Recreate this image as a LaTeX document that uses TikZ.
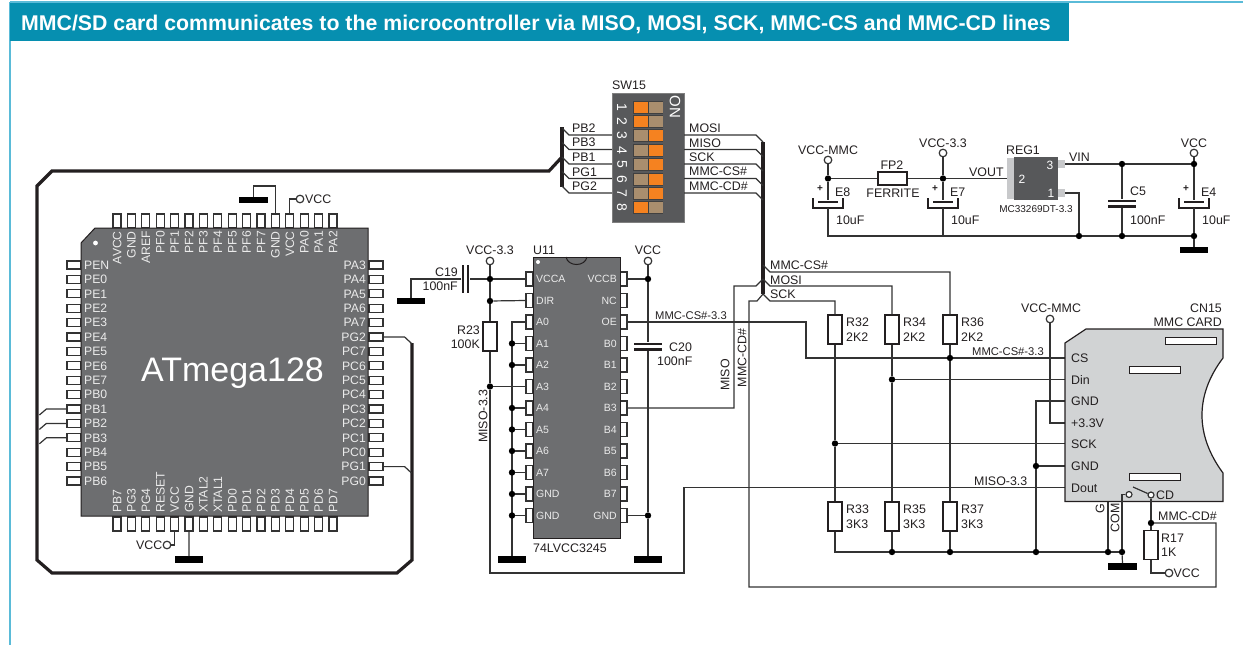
\documentclass[tikz,border=0pt]{standalone}
\usepackage{fontspec}
\setmainfont{Liberation Sans}
\usetikzlibrary{positioning,calc}

\definecolor{headteal}{HTML}{068FB0}
\definecolor{framecyan}{HTML}{5ABBD8}
\definecolor{wirecol}{HTML}{333333}
\definecolor{buscol}{HTML}{231F20}
\definecolor{chipgrey}{HTML}{6D6E70}
\definecolor{swgrey}{HTML}{58595B}
\definecolor{swtan}{HTML}{A98E6E}
\definecolor{swon}{HTML}{F58220}
\definecolor{cardgrey}{HTML}{D1D3D4}
\definecolor{tabgrey}{HTML}{C8C9CB}

\tikzset{
    wire/.style={draw=wirecol, line width=1.2pt},
    bus/.style={draw=buscol, line width=3.2pt, miter limit=10},
    dot/.style={circle, fill=black, inner sep=0pt, minimum size=6.4pt},
    term/.style={circle, draw=wirecol, fill=white, line width=1.2pt, inner sep=0pt, minimum size=7.6pt},
    smallterm/.style={term, minimum size=6pt},
    gndbar/.style={rectangle, fill=black, inner sep=0pt, minimum width=28.5pt, minimum height=6.5pt},
    pinh/.style={rectangle, draw=wirecol, fill=white, line width=1.2pt, inner sep=0pt, minimum width=14pt, minimum height=8pt},
    pinv/.style={rectangle, draw=wirecol, fill=white, line width=1.2pt, inner sep=0pt, minimum width=8pt, minimum height=14pt},
    pinu/.style={rectangle, draw=wirecol, fill=white, line width=1.2pt, inner sep=0pt, minimum width=7pt, minimum height=14pt},
    res/.style={rectangle, draw=buscol, fill=white, line width=1.4pt, inner sep=0pt, minimum width=14pt, minimum height=29pt},
    ferrite/.style={res, minimum width=29pt, minimum height=13pt},
    plateh/.style={rectangle, fill=buscol, inner sep=0pt, minimum width=28pt, minimum height=2.8pt},
    platev/.style={rectangle, fill=buscol, inner sep=0pt, minimum width=2.8pt, minimum height=28pt},
    lbl/.style={inner sep=0pt, anchor=west, text=buscol, text height=8.6pt, text depth=0pt, font=\fontsize{12.4}{14}\selectfont},
    lblr/.style={lbl, anchor=east},
    lblc/.style={lbl, anchor=center},
    siglbl/.style={lbl, font=\fontsize{11.2}{13}\selectfont},
    chiplbl/.style={lbl, text=white!92!black, font=\fontsize{12.2}{14}\selectfont},
    ulbl/.style={lbl, text=white!92!black, text height=7.4pt, font=\fontsize{10.5}{12}\selectfont},
    swcell/.style={rectangle, inner sep=0pt, minimum width=14pt, minimum height=11pt}
}

\begin{document}
\begin{tikzpicture}[x=1pt,y=-1pt]
    \useasboundingbox (0,0) rectangle (1243,645);

    % frame and heading
    \draw [framecyan, line width=1.2pt] (10,2) -- (1243,2);
    \draw [framecyan, line width=2pt] (10,2) -- (10,645);
    \fill [headteal] (10,3) rectangle (1069,41);
    \node [inner sep=0pt, anchor=west, text=white, font=\bfseries\fontsize{21.3}{24}\selectfont] (title) at (21,24) {MMC/SD card communicates to the microcontroller via MISO, MOSI, SCK, MMC-CS and MMC-CD lines};

    % ATmega128 pins
    \foreach \n [count=\i from 0] in {AVCC,GND,AREF,PF0,PF1,PF2,PF3,PF4,PF5,PF6,PF7,GND,VCC,PA0,PA1,PA2} {
        \pgfmathsetmacro\px{117+14.4*\i}
        \node [pinv] (top\i) at (\px,221) {};
    }
    \foreach \n [count=\i from 0] in {PB7,PG3,PG4,RESET,VCC,GND,XTAL2,XTAL1,PD0,PD1,PD2,PD3,PD4,PD5,PD6,PD7} {
        \pgfmathsetmacro\px{117+14.4*\i}
        \node [pinv] (bot\i) at (\px,524) {};
    }
    \foreach \n [count=\i from 0] in {PEN,PE0,PE1,PE2,PE3,PE4,PE5,PE6,PE7,PB0,PB1,PB2,PB3,PB4,PB5,PB6} {
        \pgfmathsetmacro\py{265+14.4*\i}
        \node [pinh] (left\i) at (74,\py) {};
    }
    \foreach \n [count=\i from 0] in {PA3,PA4,PA5,PA6,PA7,PG2,PC7,PC6,PC5,PC4,PC3,PC2,PC1,PC0,PG1,PG0} {
        \pgfmathsetmacro\py{265+14.4*\i}
        \node [pinh] (right\i) at (376,\py) {};
    }
    \draw [fill=chipgrey, draw=buscol, line width=1pt] (81,243) -- (95,228) -- (368,228) -- (368,516) -- (81,516) -- cycle;
    \fill [white] (95.5,243) circle (2.4);
    \foreach \n [count=\i from 0] in {AVCC,GND,AREF,PF0,PF1,PF2,PF3,PF4,PF5,PF6,PF7,GND,VCC,PA0,PA1,PA2} {
        \pgfmathsetmacro\px{117+14.4*\i}
        \node [chiplbl, rotate=90, anchor=east] (topl\i) at (\px,231) {\n};
    }
    \foreach \n [count=\i from 0] in {PB7,PG3,PG4,RESET,VCC,GND,XTAL2,XTAL1,PD0,PD1,PD2,PD3,PD4,PD5,PD6,PD7} {
        \pgfmathsetmacro\px{117+14.4*\i}
        \node [chiplbl, rotate=90, anchor=west] (botl\i) at (\px,513) {\n};
    }
    \foreach \n [count=\i from 0] in {PEN,PE0,PE1,PE2,PE3,PE4,PE5,PE6,PE7,PB0,PB1,PB2,PB3,PB4,PB5,PB6} {
        \pgfmathsetmacro\py{265+14.4*\i}
        \node [chiplbl] (leftl\i) at (84,\py) {\n};
    }
    \foreach \n [count=\i from 0] in {PA3,PA4,PA5,PA6,PA7,PG2,PC7,PC6,PC5,PC4,PC3,PC2,PC1,PC0,PG1,PG0} {
        \pgfmathsetmacro\py{265+14.4*\i}
        \node [chiplbl, anchor=east] (rightl\i) at (366,\py) {\n};
    }
    \node [inner sep=0pt, text=white, font=\fontsize{34}{38}\selectfont] (mcu) at (232.5,373) {ATmega128};

    % thick bus round the MCU
    \coordinate (busA) at (562,157);
    \coordinate (busB) at (412,343);
    \draw [bus] (busA) -- (549,171) -- (52,171) -- (37,186) -- (37,560) -- (52,573) -- (397,573) -- (412,560) -- (busB);
    \coordinate (sbusT) at (562,127);
    \coordinate (sbusB) at (562,187);
    \draw [bus] (sbusT) -- (sbusB);
    \coordinate (rbusT) at (763,142);
    \coordinate (rbusB) at (763,294);
    \draw [bus] (rbusT) -- (rbusB);

    % MCU pin wires
    \foreach \i in {10,11,12} {
        \coordinate (ent\i) at ($(left\i.west)+(-27,6)$);
        \draw [wire] (left\i.west) -- ++(-20,0) -- (ent\i);
    }
    \foreach \i in {5,14} {
        \coordinate (ent r\i) at ($(right\i.east)+(28,6.5)$);
        \draw [wire] (right\i.east) -- ++(21,0) -- (ent r\i);
    }
    \node [gndbar] (gnd1) at (253.5,200) {};
    \node [term] (tvcc1) at (300,199) {};
    \node [lbl] (lblvcc1) at (305,199.5) {VCC};
    \draw [wire] (top11.north) |- (253.5,186) -- (gnd1.north);
    \draw [wire] (top12.north) |- (tvcc1.west);
    \node [term] (tvcc2) at (167,545) {};
    \node [lblr] (lblvcc2) at (162.5,545) {VCC};
    \node [gndbar] (gnd2) at (189,559.5) {};
    \draw [wire] (bot4.south) |- (tvcc2.east);
    \draw [wire] (bot5.south) -- (gnd2.north);

    % SW15
    \node [rectangle, draw=gray, fill=swgrey, line width=1pt, inner sep=0pt, minimum width=72pt, minimum height=129pt] (sw) at (648,157.5) {};
    \node [lbl] (lblsw) at (612,85) {SW15};
    \node [inner sep=0pt, rotate=-90, text=white, font=\fontsize{15}{17}\selectfont] (lblon) at (675,107) {ON};
    \foreach \lc/\rc [count=\i from 1] in {swon/swtan,swon/swtan,swtan/swon,swtan/swon,swtan/swon,swtan/swon,swtan/swon,swon/swtan} {
        \pgfmathsetmacro\py{107+14.4*(\i-1)}
        \fill [black!75] (633,\py-6.5) rectangle (663,\py+6.5);
        \node [swcell, fill=\lc] (swa\i) at (641,\py) {};
        \node [swcell, fill=\rc] (swb\i) at (655.5,\py) {};
        \node [inner sep=0pt, rotate=-90, text=white, font=\fontsize{14}{16}\selectfont] (swn\i) at (622,\py) {\i};
    }
    \foreach \n/\y/\ly [count=\i from 1] in {PB2/135/128,PB3/149.5/142.5,PB1/164/157,PG1/178.5/172,PG2/193/186} {
        \coordinate (swl\i) at (612,\y);
        \draw [wire] (swl\i) -- (569,\y) -- (562,\y-7);
        \node [lbl] (lblsl\i) at (572,\ly) {\n};
    }
    \foreach \n/\y/\ly [count=\i from 1] in {MOSI/135/128,MISO/149.5/143,SCK/164/157,MMC-CS\#/178.5/171.5,MMC-CD\#/193/186} {
        \coordinate (swr\i) at (684,\y);
        \draw [wire] (swr\i) -- (756,\y) -- (763,\y+7);
        \node [lbl] (lblsr\i) at (689,\ly) {\n};
    }

    % U11
    \foreach \n [count=\i from 0] in {VCCA,DIR,A0,A1,A2,A3,A4,A5,A6,A7,GND,GND} {
        \pgfmathsetmacro\py{279+21.5*\i}
        \node [pinu] (ul\i) at (529.5,\py) {};
    }
    \foreach \n [count=\i from 0] in {VCCB,NC,OE,B0,B1,B2,B3,B4,B5,B6,B7,GND} {
        \pgfmathsetmacro\py{279+21.5*\i}
        \node [pinu] (ur\i) at (623.5,\py) {};
    }
    \draw [fill=chipgrey, draw=buscol, line width=1pt] (533,257) rectangle (620,538);
    \draw [buscol, line width=1pt] (566,257) .. controls (568,267) and (585,267) .. (587,257);
    \fill [white] (538,262) circle (2);
    \foreach \n [count=\i from 0] in {VCCA,DIR,A0,A1,A2,A3,A4,A5,A6,A7,GND,GND} {
        \pgfmathsetmacro\py{279+21.5*\i}
        \node [ulbl] (ull\i) at (536,\py) {\n};
    }
    \foreach \n [count=\i from 0] in {VCCB,NC,OE,B0,B1,B2,B3,B4,B5,B6,B7,GND} {
        \pgfmathsetmacro\py{279+21.5*\i}
        \node [ulbl, anchor=east] (url\i) at (617,\py) {\n};
    }
    \node [lbl] (lblu11) at (533,250) {U11};
    \node [lbl] (lblu11b) at (533,548) {74LVCC3245};

    % U11 left side
    \node [term] (t33a) at (490,261) {};
    \node [lblc] (lblt33a) at (490,250) {VCC-3.3};
    \node [dot] (d1) at (490,279) {};
    \node [dot] (d2) at (490,301) {};
    \node [dot] (d3) at (490,386.5) {};
    \node [res] (r23) at (490,336.5) {};
    \node [lblr] (lblr23) at (480,330) {R23};
    \node [lblr] (lblr23b) at (480,344) {100K};
    \node [platev] (c19b) at (468,279) {};
    \node [platev] (c19a) at (463,279) {};
    \node [gndbar] (gnd3) at (411,301) {};
    \node [lblr] (lblc19) at (458,272) {C19};
    \node [lblr] (lblc19b) at (458,286) {100nF};
    \node [lbl, rotate=90] (lblmiso33) at (483,443) {MISO-3.3};
    \coordinate (cnCS) at (1065,358);
    \coordinate (cnDin) at (1065,379.5);
    \coordinate (cnGa) at (1065,401);
    \coordinate (cnV) at (1065,423);
    \coordinate (cnSCK) at (1065,443.5);
    \coordinate (cnGb) at (1065,466);
    \coordinate (cnDout) at (1065,487.5);
    \draw [wire] (t33a) -- (d1);
    \draw [wire] (d1) -- (d2);
    \draw [wire] (d2) -- (r23.north);
    \draw [wire] (r23.south) -- (d3);
    \draw [wire] (d3) -- (490,573) -- (684,573) -- (684,487.5) -- (cnDout);
    \draw [wire] (d1) -- (ul0.west);
    \draw [wire] (d2) -- (ul1.west);
    \draw [wire] (d3) -- (ul5.west);
    \draw [wire] (d1) -- (c19b.east);
    \draw [wire] (c19a.west) -| (gnd3.north);
    \node [gndbar] (gnd4) at (512,559.5) {};
    \draw [wire] (ul2.west) -| (gnd4.north);
    \foreach \i in {3,4,6,7,8,9,10,11} {
        \pgfmathsetmacro\py{279+21.5*\i}
        \node [dot] (da\i) at (512,\py) {};
        \draw [wire] (da\i) -- (ul\i.west);
    }

    % U11 right side
    \node [term] (t5v) at (648,261) {};
    \node [lblc] (lblt5v) at (648,250) {VCC};
    \node [dot] (d5) at (648,279) {};
    \node [dot] (d6) at (648,515.5) {};
    \node [plateh] (c20a) at (648,344) {};
    \node [plateh] (c20b) at (648,349.5) {};
    \node [lbl] (lblc20) at (669,347) {C20};
    \node [lbl] (lblc20b) at (657,361) {100nF};
    \node [gndbar] (gnd5) at (648,559.5) {};
    \draw [wire] (t5v) -- (d5);
    \draw [wire] (d5) -- (c20a.north);
    \draw [wire] (c20b.south) -- (d6);
    \draw [wire] (d6) -- (gnd5.north);
    \draw [wire] (d5) -- (ur0.east);
    \draw [wire] (d6) -- (ur11.east);
    \node [siglbl] (lblcs33a) at (655,315) {MMC-CS\#-3.3};
    \draw [wire] (ur2.east) -- (806,322) -- (806,358) -- (cnCS);
    \node [siglbl] (lblcs33b) at (972,351) {MMC-CS\#-3.3};
    \node [lbl] (lblmiso33b) at (974,481) {MISO-3.3};
    \coordinate (rbusM) at (763,279);
    \coordinate (rbusS) at (763,294);
    \draw [wire] (ur6.east) -- (734,408) -- (734,286) -- (756,286) -- (rbusM);
    \node [lbl, rotate=90, anchor=center] (lblmiso) at (725,375) {MISO};
    \node [lbl, rotate=90, anchor=center] (lblmmccd) at (742,358) {MMC-CD\#};

    % pull-ups and pull-downs
    \foreach \n/\x in {32/835,34/892,36/950} {
        \node [res] (r\n) at (\x,329.5) {};
        \node [lbl] (lblr\n) at (\x+11,322) {R\n};
        \node [lbl] (lblv\n) at (\x+11,337) {2K2};
    }
    \foreach \n/\x in {33/835,35/892,37/950} {
        \node [res] (r\n) at (\x,516.5) {};
        \node [lbl] (lblr\n) at (\x+11,509) {R\n};
        \node [lbl] (lblv\n) at (\x+11,524) {3K3};
    }
    \node [lbl] (lblcs) at (770,265) {MMC-CS\#};
    \node [lbl] (lblmo) at (770,280) {MOSI};
    \node [lbl] (lblsc) at (770,294) {SCK};
    \coordinate (rbusC) at (763,265);
    \coordinate (rbusO) at (763,279);
    \coordinate (rbusK) at (763,294);
    \draw [wire] (rbusC) -- (770,272) -| (r36.north);
    \draw [wire] (rbusO) -- (770,286) -| (r34.north);
    \draw [wire] (rbusK) -- (770,301) -| (r32.north);
    \draw [wire] (rbusK) -- (757,301) -- (749,301) -- (749,587) -- (1216,587) -- (1216,523) -- (1154,523);
    \node [dot] (dcs) at (950,358) {};
    \node [dot] (ddin) at (892,379.5) {};
    \node [dot] (dsck) at (835,443.5) {};
    \draw [wire] (r36.south) -- (dcs);
    \draw [wire] (dcs) -- (r37.north);
    \draw [wire] (r34.south) -- (ddin);
    \draw [wire] (ddin) -- (r35.north);
    \draw [wire] (r32.south) -- (dsck);
    \draw [wire] (dsck) -- (r33.north);
    \draw [wire] (ddin) -- (cnDin);
    \draw [wire] (dsck) -- (cnSCK);

    % bottom rail
    \node [dot] (db35) at (892,552) {};
    \node [dot] (db37) at (950,552) {};
    \node [dot] (db1) at (1036,552) {};
    \node [dot] (dbG) at (1108,552) {};
    \node [dot] (dbC) at (1122,552) {};
    \node [dot] (dgnd) at (1036,466) {};
    \node [gndbar] (gnd6) at (1122.5,566.5) {};
    \draw [wire] (r33.south) |- (db35);
    \draw [wire] (db35) -- (r35.south);
    \draw [wire] (db35) -- (db37);
    \draw [wire] (db37) -- (r37.south);
    \draw [wire] (db37) -- (db1);
    \draw [wire] (db1) -- (dbG);
    \draw [wire] (dbG) -- (dbC);
    \draw [wire] (dbC) -- (gnd6.north);
    \draw [wire] (cnGa) -| (dgnd);
    \draw [wire] (dgnd) -- (cnGb);
    \draw [wire] (dgnd) -- (db1);
    \node [term] (tmmc) at (1050,319) {};
    \node [lblc] (lbltmmc) at (1051,308) {VCC-MMC};
    \draw [wire] (tmmc) |- (cnV);

    % card
    \draw [wire] (dbG) -- (1108,501);
    \draw [fill=cardgrey, draw=buscol, line width=1.2pt] (1065,343) -- (1086,329) -- (1223,329) -- (1223,358) .. controls (1195,395) and (1195,435) .. (1223,473) -- (1223,501.5) -- (1065,501.5) -- cycle;
    \node [rectangle, draw=buscol, fill=white, line width=1pt, inner sep=0pt, minimum width=51pt, minimum height=7pt] (slot1) at (1190.5,340.5) {};
    \node [rectangle, draw=buscol, fill=white, line width=1pt, inner sep=0pt, minimum width=51pt, minimum height=7pt] (slot2) at (1154.5,369.5) {};
    \node [rectangle, draw=buscol, fill=white, line width=1pt, inner sep=0pt, minimum width=51pt, minimum height=7pt] (slot3) at (1154.5,477) {};
    \foreach \n/\y [count=\i from 1] in {CS/358,Din/380,GND/401,+3.3V/423,SCK/444,GND/466,Dout/488} {
        \node [lbl] (lblcn\i) at (1071,\y) {\n};
    }
    \node [lblr] (lblcn) at (1222,308) {CN15};
    \node [lblr] (lblcnb) at (1222,322) {MMC CARD};
    \node [smallterm] (swa) at (1129,494.5) {};
    \node [smallterm] (swb) at (1151,495) {};
    \coordinate (blade) at (1133,487);
    \draw [wire] (blade) -- (swb);
    \node [lbl] (lblcd) at (1156,495) {CD};
    \node [lbl, rotate=90, anchor=center] (lblg) at (1100,509) {G};
    \node [lbl, rotate=90, anchor=center] (lblcom) at (1115,518) {COM};
    \draw [wire] (dbC) |- (swa.west);

    % R17
    \node [dot] (d17) at (1151,523) {};
    \node [res] (r17) at (1151,545) {};
    \node [lbl] (lblr17) at (1161,538) {R17};
    \node [lbl] (lblv17) at (1161,552) {1K};
    \node [lbl] (lblcdh) at (1158,516) {MMC-CD\#};
    \node [term] (tvcc3) at (1169,573) {};
    \node [lbl] (lblvcc3) at (1173.5,573) {VCC};
    \draw [wire] (swb) -- (d17);
    \draw [wire] (d17) -- (r17.north);
    \draw [wire] (r17.south) |- (tvcc3.west);

    % regulator section
    \node [term] (tmmcb) at (828,160) {};
    \node [lblc] (lbltmmcb) at (828,150) {VCC-MMC};
    \node [term] (t33b) at (943,153) {};
    \node [lblc] (lblt33b) at (943,143) {VCC-3.3};
    \node [term] (tvcc4) at (1194,153) {};
    \node [lblc] (lbltvcc4) at (1194,143) {VCC};
    \node [dot] (de8) at (828,178.5) {};
    \node [dot] (de7) at (943,178.5) {};
    \node [dot] (dvin) at (1122,164) {};
    \node [dot] (dvcc) at (1194,164) {};
    \node [dot] (dg1) at (1079,236) {};
    \node [dot] (dg2) at (1122,236) {};
    \node [dot] (dg3) at (1194,236) {};
    \node [gndbar] (gnd7) at (1194,250) {};
    \foreach \n/\x/\nm in {e8/828/E8,e7/943/E7,e4/1194/E4} {
        \node [plateh, minimum width=20pt] (\n) at (\x,202) {};
        \draw [buscol, line width=1.6pt] (\x-15,198) -- (\x-15,208) -- (\x+15,208) -- (\x+15,198);
        \coordinate (\n b) at (\x,208);
        \node [inner sep=0pt, text=buscol, font=\bfseries\fontsize{10}{12}\selectfont] (\n p) at (\x-8,189) {+};
        \node [lbl] (lbl\n) at (\x+7,192) {\nm};
        \node [lbl] (lbl\n v) at (\x+8,220) {10uF};
    }
    \node [ferrite] (fp2) at (892.5,178.5) {};
    \node [lblc] (lblfp2) at (892,165) {FP2};
    \node [lblc] (lblfer) at (893,193) {FERRITE};
    \node [rectangle, fill=tabgrey, inner sep=0pt, minimum width=8pt, minimum height=41pt] (tab) at (1011,178.5) {};
    \node [rectangle, fill=tabgrey, inner sep=0pt, minimum width=7pt, minimum height=8pt] (rp3) at (1061.5,164) {};
    \node [rectangle, fill=tabgrey, inner sep=0pt, minimum width=7pt, minimum height=8pt] (rp1) at (1061.5,193) {};
    \node [rectangle, fill=chipgrey!80!black, inner sep=0pt, minimum width=44pt, minimum height=43pt] (reg) at (1036,178.5) {};
    \node [inner sep=0pt, text=white, font=\fontsize{12}{14}\selectfont] (regp3) at (1050,165) {3};
    \node [inner sep=0pt, text=white, font=\fontsize{12}{14}\selectfont] (regp2) at (1022,179) {2};
    \node [inner sep=0pt, text=white, font=\fontsize{12}{14}\selectfont] (regp1) at (1051,193) {1};
    \node [lblc] (lblreg) at (1023,150) {REG1};
    \node [lblc, font=\fontsize{10}{12}\selectfont] (lblmc) at (1036,208) {MC33269DT-3.3};
    \node [lbl] (lblvout) at (969,172) {VOUT};
    \node [lbl] (lblvin) at (1069,157) {VIN};
    \node [plateh] (c5a) at (1122,201) {};
    \node [plateh] (c5b) at (1122,206.5) {};
    \node [lbl] (lblc5) at (1130,191) {C5};
    \node [lbl] (lblc5v) at (1130,220) {100nF};
    \draw [wire] (tmmcb) -- (de8);
    \draw [wire] (de8) -- (e8.north);
    \draw [wire] (de8) -- (fp2.west);
    \draw [wire] (fp2.east) -- (de7);
    \draw [wire] (t33b) -- (de7);
    \draw [wire] (de7) -- (e7.north);
    \draw [wire] (de7) -- (tab.west);
    \draw [wire] (rp3.east) -- (dvin);
    \draw [wire] (dvin) -- (dvcc);
    \draw [wire] (tvcc4) -- (dvcc);
    \draw [wire] (dvcc) -- (e4.north);
    \draw [wire] (dvin) -- (c5a.north);
    \draw [wire] (c5b.south) -- (dg2);
    \draw [wire] (rp1.east) -| (dg1);
    \draw [wire] (e8b) |- (dg1);
    \draw [wire] (e7b) -- (943,236);
    \draw [wire] (dg1) -- (dg2);
    \draw [wire] (dg2) -- (dg3);
    \draw [wire] (e4b) -- (dg3);
    \draw [wire] (dg3) -- (gnd7.north);
\end{tikzpicture}
\end{document}
